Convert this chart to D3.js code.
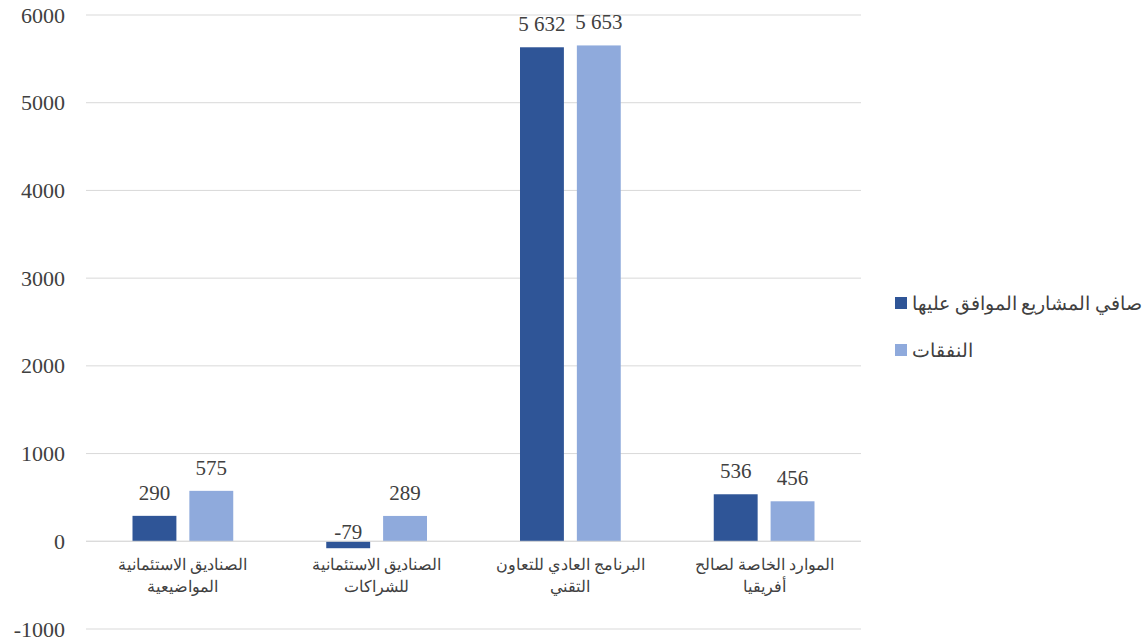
<!DOCTYPE html>
<html>
<head>
<meta charset="utf-8">
<script src="https://cdn.jsdelivr.net/npm/d3@7"></script>
<style>
  body { margin: 0; background: #fff; }
  svg text { font-family: "Liberation Serif", "DejaVu Serif", serif; fill: #404040; }
</style>
</head>
<body>
<svg id="chart" width="1143" height="644"></svg>
<script>
const categories = [
  ['الصناديق الاستئمانية', 'المواضيعية'],
  ['الصناديق الاستئمانية', 'للشراكات'],
  ['البرنامج العادي للتعاون', 'التقني'],
  ['الموارد الخاصة لصالح', 'أفريقيا'],
]
const seriesNames = ['صافي المشاريع الموافق عليها', 'النفقات']
const approved = [290, -79, 5632, 536]
const spending = [575, 289, 5653, 456]
const yTicks = [-1000, 0, 1000, 2000, 3000, 4000, 5000, 6000]

const colors = ['#2F5597', '#8FAADC']
const svg = d3.select('#chart')
const FONT = '"Liberation Serif", "DejaVu Serif", serif'

const x = d3.scaleBand()
  .domain(d3.range(categories.length))
  .range([86, 861])

// deux barres par groupe
const x1 = d3.scaleBand()
  .domain([0, 1])
  .range([46.5, x.bandwidth() - 46.5])
  .paddingInner(0.228)

const y = d3.scaleLinear()
  .domain([-1000, 6000])
  .range([629, 15])

// grille
svg.append('g')
  .selectAll('line')
  .data(yTicks)
  .join('line')
  .attr('x1', 86).attr('x2', 861)
  .attr('y1', d => y(d)).attr('y2', d => y(d))
  .attr('stroke', '#d9d9d9')
  .attr('stroke-width', 1)

// axe vertical
const yAxis = svg.append('g')
  .attr('transform', 'translate(86,0)')
  .call(d3.axisLeft(y).tickValues(yTicks).tickSize(0).tickPadding(21).tickFormat(d => String(d)))
  .attr('font-family', FONT)
  .attr('font-size', 22)
yAxis.select('.domain').remove()
yAxis.selectAll('text')
  .attr('fill', '#404040')
  .style('font-family', FONT)
  .style('font-size', '22px')

const fmt = v => d3.format(',')(v).replace(/,/g, ' ').replace('−', '-')

const series = [approved, spending]
series.forEach((vals, s) => {
  const g = svg.append('g')
  g.selectAll('rect')
    .data(vals)
    .join('rect')
    .attr('x', (d, i) => x(i) + x1(s))
    .attr('width', x1.bandwidth())
    .attr('y', d => y(Math.max(0, d)))
    .attr('height', d => Math.abs(y(d) - y(0)))
    .attr('fill', colors[s])

  g.selectAll('text')
    .data(vals)
    .join('text')
    .attr('x', (d, i) => x(i) + x1(s) + x1.bandwidth() / 2)
    .attr('y', d => d >= 0 ? y(d) - 16 : y(0) - 2)
    .attr('text-anchor', 'middle')
    .attr('direction', 'ltr')
    .style('unicode-bidi', 'bidi-override')
    .style('font-size', '21px')
    .text(d => fmt(d))
})

// ligne du zéro
svg.append('line')
  .attr('x1', 86).attr('x2', 861)
  .attr('y1', y(0)).attr('y2', y(0))
  .attr('stroke', '#d9d9d9')

// étiquettes des catégories
const cat = svg.append('g')
cat.selectAll('text')
  .data(categories)
  .join('text')
  .attr('text-anchor', 'middle')
  .attr('direction', 'rtl')
  .style('font-size', '16px')
  .each(function (d, i) {
    d.forEach((line, k) => {
      d3.select(this).append('tspan')
        .attr('x', x(i) + x.bandwidth() / 2)
        .attr('y', 570 + k * 22)
        .text(line)
    })
  })

// légende
const legend = svg.append('g')
seriesNames.forEach((name, i) => {
  const ly = 303 + i * 47
  legend.append('rect')
    .attr('x', 895).attr('y', ly - 6)
    .attr('width', 12).attr('height', 12)
    .attr('fill', colors[i])
  legend.append('text')
    .attr('x', 912).attr('y', ly + 7)
    .attr('direction', 'rtl')
    .attr('text-anchor', 'end')
    .style('font-size', '18.5px')
    .text(name)
})
</script>
</body>
</html>
